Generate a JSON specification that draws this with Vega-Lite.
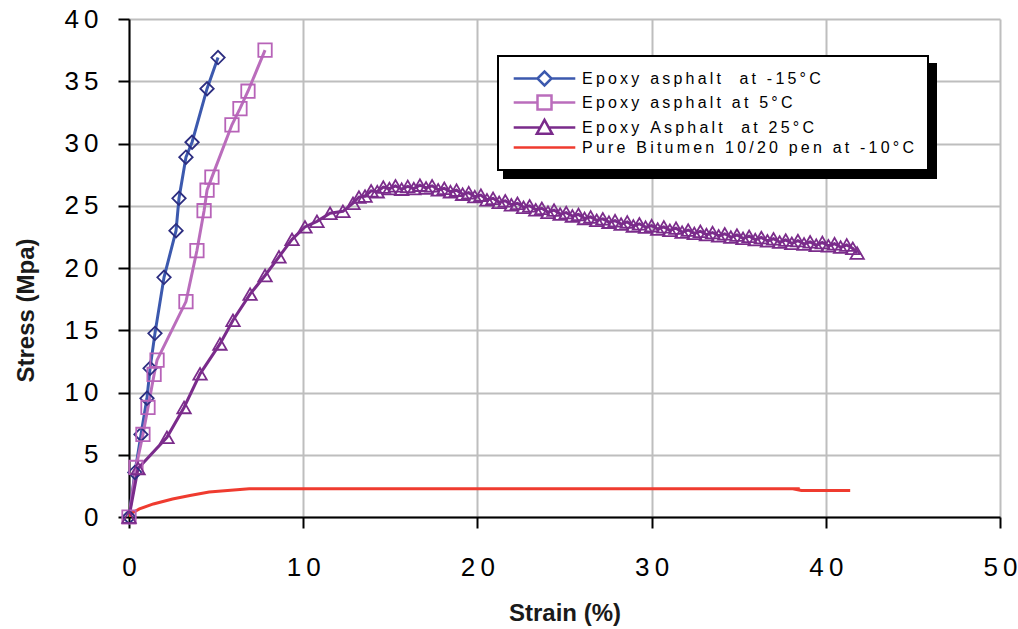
{
  "$schema": "https://vega.github.io/schema/vega-lite/v6.json",
  "width": 871,
  "height": 498,
  "autosize": {"type": "none"},
  "padding": {"left": 129, "top": 19, "right": 18, "bottom": 112},
  "background": "white",
  "config": {"view": {"stroke": null}, "font": "Liberation Sans", "legend": {"strokeWidth": 2}},
  "data": {"values": [
    {"series": "Epoxy asphalt  at -15°C", "strain": 0, "stress": 0},
    {"series": "Epoxy asphalt  at -15°C", "strain": 0.34, "stress": 3.58},
    {"series": "Epoxy asphalt  at -15°C", "strain": 0.69, "stress": 6.63},
    {"series": "Epoxy asphalt  at -15°C", "strain": 1.03, "stress": 9.53},
    {"series": "Epoxy asphalt  at -15°C", "strain": 1.21, "stress": 11.94},
    {"series": "Epoxy asphalt  at -15°C", "strain": 1.49, "stress": 14.75},
    {"series": "Epoxy asphalt  at -15°C", "strain": 2.01, "stress": 19.25},
    {"series": "Epoxy asphalt  at -15°C", "strain": 2.7, "stress": 23.0},
    {"series": "Epoxy asphalt  at -15°C", "strain": 2.87, "stress": 25.6},
    {"series": "Epoxy asphalt  at -15°C", "strain": 3.27, "stress": 28.9},
    {"series": "Epoxy asphalt  at -15°C", "strain": 3.62, "stress": 30.1},
    {"series": "Epoxy asphalt  at -15°C", "strain": 4.48, "stress": 34.4},
    {"series": "Epoxy asphalt  at -15°C", "strain": 5.11, "stress": 36.9},
    {"series": "Epoxy asphalt at 5°C", "strain": 0, "stress": 0},
    {"series": "Epoxy asphalt at 5°C", "strain": 0.4, "stress": 3.98},
    {"series": "Epoxy asphalt at 5°C", "strain": 0.8, "stress": 6.63},
    {"series": "Epoxy asphalt at 5°C", "strain": 1.09, "stress": 8.8},
    {"series": "Epoxy asphalt at 5°C", "strain": 1.44, "stress": 11.45},
    {"series": "Epoxy asphalt at 5°C", "strain": 1.61, "stress": 12.6},
    {"series": "Epoxy asphalt at 5°C", "strain": 3.27, "stress": 17.3},
    {"series": "Epoxy asphalt at 5°C", "strain": 3.9, "stress": 21.4},
    {"series": "Epoxy asphalt at 5°C", "strain": 4.31, "stress": 24.6},
    {"series": "Epoxy asphalt at 5°C", "strain": 4.48, "stress": 26.25},
    {"series": "Epoxy asphalt at 5°C", "strain": 4.76, "stress": 27.3},
    {"series": "Epoxy asphalt at 5°C", "strain": 5.91, "stress": 31.5},
    {"series": "Epoxy asphalt at 5°C", "strain": 6.37, "stress": 32.8},
    {"series": "Epoxy asphalt at 5°C", "strain": 6.83, "stress": 34.2},
    {"series": "Epoxy asphalt at 5°C", "strain": 7.81, "stress": 37.5},
    {"series": "Epoxy Asphalt  at 25°C", "strain": 0, "stress": 0},
    {"series": "Epoxy Asphalt  at 25°C", "strain": 0.52, "stress": 3.9},
    {"series": "Epoxy Asphalt  at 25°C", "strain": 2.18, "stress": 6.4},
    {"series": "Epoxy Asphalt  at 25°C", "strain": 3.16, "stress": 8.8},
    {"series": "Epoxy Asphalt  at 25°C", "strain": 4.08, "stress": 11.5},
    {"series": "Epoxy Asphalt  at 25°C", "strain": 5.22, "stress": 13.9},
    {"series": "Epoxy Asphalt  at 25°C", "strain": 5.97, "stress": 15.8},
    {"series": "Epoxy Asphalt  at 25°C", "strain": 6.95, "stress": 17.9},
    {"series": "Epoxy Asphalt  at 25°C", "strain": 7.81, "stress": 19.4},
    {"series": "Epoxy Asphalt  at 25°C", "strain": 8.61, "stress": 20.9},
    {"series": "Epoxy Asphalt  at 25°C", "strain": 9.36, "stress": 22.3},
    {"series": "Epoxy Asphalt  at 25°C", "strain": 10.1, "stress": 23.3},
    {"series": "Epoxy Asphalt  at 25°C", "strain": 10.79, "stress": 23.75},
    {"series": "Epoxy Asphalt  at 25°C", "strain": 11.54, "stress": 24.4},
    {"series": "Epoxy Asphalt  at 25°C", "strain": 12.28, "stress": 24.55},
    {"series": "Epoxy Asphalt  at 25°C", "strain": 12.86, "stress": 25.2},
    {"series": "Epoxy Asphalt  at 25°C", "strain": 13.2, "stress": 25.7},
    {"series": "Epoxy Asphalt  at 25°C", "strain": 13.55, "stress": 25.78},
    {"series": "Epoxy Asphalt  at 25°C", "strain": 13.9, "stress": 26.2},
    {"series": "Epoxy Asphalt  at 25°C", "strain": 14.25, "stress": 26.13},
    {"series": "Epoxy Asphalt  at 25°C", "strain": 14.6, "stress": 26.5},
    {"series": "Epoxy Asphalt  at 25°C", "strain": 14.95, "stress": 26.38},
    {"series": "Epoxy Asphalt  at 25°C", "strain": 15.3, "stress": 26.6},
    {"series": "Epoxy Asphalt  at 25°C", "strain": 15.65, "stress": 26.33},
    {"series": "Epoxy Asphalt  at 25°C", "strain": 16.0, "stress": 26.55},
    {"series": "Epoxy Asphalt  at 25°C", "strain": 16.35, "stress": 26.38},
    {"series": "Epoxy Asphalt  at 25°C", "strain": 16.7, "stress": 26.65},
    {"series": "Epoxy Asphalt  at 25°C", "strain": 17.05, "stress": 26.43},
    {"series": "Epoxy Asphalt  at 25°C", "strain": 17.4, "stress": 26.6},
    {"series": "Epoxy Asphalt  at 25°C", "strain": 17.75, "stress": 26.28},
    {"series": "Epoxy Asphalt  at 25°C", "strain": 18.1, "stress": 26.4},
    {"series": "Epoxy Asphalt  at 25°C", "strain": 18.45, "stress": 26.13},
    {"series": "Epoxy Asphalt  at 25°C", "strain": 18.8, "stress": 26.25},
    {"series": "Epoxy Asphalt  at 25°C", "strain": 19.15, "stress": 25.93},
    {"series": "Epoxy Asphalt  at 25°C", "strain": 19.5, "stress": 26.05},
    {"series": "Epoxy Asphalt  at 25°C", "strain": 19.85, "stress": 25.73},
    {"series": "Epoxy Asphalt  at 25°C", "strain": 20.2, "stress": 25.85},
    {"series": "Epoxy Asphalt  at 25°C", "strain": 20.55, "stress": 25.48},
    {"series": "Epoxy Asphalt  at 25°C", "strain": 20.9, "stress": 25.6},
    {"series": "Epoxy Asphalt  at 25°C", "strain": 21.25, "stress": 25.28},
    {"series": "Epoxy Asphalt  at 25°C", "strain": 21.6, "stress": 25.4},
    {"series": "Epoxy Asphalt  at 25°C", "strain": 21.95, "stress": 25.08},
    {"series": "Epoxy Asphalt  at 25°C", "strain": 22.3, "stress": 25.2},
    {"series": "Epoxy Asphalt  at 25°C", "strain": 22.65, "stress": 24.88},
    {"series": "Epoxy Asphalt  at 25°C", "strain": 23.0, "stress": 25.0},
    {"series": "Epoxy Asphalt  at 25°C", "strain": 23.35, "stress": 24.68},
    {"series": "Epoxy Asphalt  at 25°C", "strain": 23.7, "stress": 24.8},
    {"series": "Epoxy Asphalt  at 25°C", "strain": 24.05, "stress": 24.48},
    {"series": "Epoxy Asphalt  at 25°C", "strain": 24.4, "stress": 24.65},
    {"series": "Epoxy Asphalt  at 25°C", "strain": 24.75, "stress": 24.33},
    {"series": "Epoxy Asphalt  at 25°C", "strain": 25.1, "stress": 24.45},
    {"series": "Epoxy Asphalt  at 25°C", "strain": 25.45, "stress": 24.18},
    {"series": "Epoxy Asphalt  at 25°C", "strain": 25.8, "stress": 24.3},
    {"series": "Epoxy Asphalt  at 25°C", "strain": 26.15, "stress": 23.98},
    {"series": "Epoxy Asphalt  at 25°C", "strain": 26.5, "stress": 24.1},
    {"series": "Epoxy Asphalt  at 25°C", "strain": 26.85, "stress": 23.83},
    {"series": "Epoxy Asphalt  at 25°C", "strain": 27.2, "stress": 23.95},
    {"series": "Epoxy Asphalt  at 25°C", "strain": 27.55, "stress": 23.68},
    {"series": "Epoxy Asphalt  at 25°C", "strain": 27.9, "stress": 23.8},
    {"series": "Epoxy Asphalt  at 25°C", "strain": 28.25, "stress": 23.53},
    {"series": "Epoxy Asphalt  at 25°C", "strain": 28.6, "stress": 23.7},
    {"series": "Epoxy Asphalt  at 25°C", "strain": 28.95, "stress": 23.38},
    {"series": "Epoxy Asphalt  at 25°C", "strain": 29.3, "stress": 23.55},
    {"series": "Epoxy Asphalt  at 25°C", "strain": 29.65, "stress": 23.28},
    {"series": "Epoxy Asphalt  at 25°C", "strain": 30.0, "stress": 23.4},
    {"series": "Epoxy Asphalt  at 25°C", "strain": 30.35, "stress": 23.13},
    {"series": "Epoxy Asphalt  at 25°C", "strain": 30.7, "stress": 23.3},
    {"series": "Epoxy Asphalt  at 25°C", "strain": 31.05, "stress": 23.03},
    {"series": "Epoxy Asphalt  at 25°C", "strain": 31.4, "stress": 23.2},
    {"series": "Epoxy Asphalt  at 25°C", "strain": 31.75, "stress": 22.88},
    {"series": "Epoxy Asphalt  at 25°C", "strain": 32.1, "stress": 23.05},
    {"series": "Epoxy Asphalt  at 25°C", "strain": 32.45, "stress": 22.78},
    {"series": "Epoxy Asphalt  at 25°C", "strain": 32.8, "stress": 22.95},
    {"series": "Epoxy Asphalt  at 25°C", "strain": 33.15, "stress": 22.68},
    {"series": "Epoxy Asphalt  at 25°C", "strain": 33.5, "stress": 22.85},
    {"series": "Epoxy Asphalt  at 25°C", "strain": 33.85, "stress": 22.58},
    {"series": "Epoxy Asphalt  at 25°C", "strain": 34.2, "stress": 22.75},
    {"series": "Epoxy Asphalt  at 25°C", "strain": 34.55, "stress": 22.48},
    {"series": "Epoxy Asphalt  at 25°C", "strain": 34.9, "stress": 22.65},
    {"series": "Epoxy Asphalt  at 25°C", "strain": 35.25, "stress": 22.38},
    {"series": "Epoxy Asphalt  at 25°C", "strain": 35.6, "stress": 22.55},
    {"series": "Epoxy Asphalt  at 25°C", "strain": 35.95, "stress": 22.28},
    {"series": "Epoxy Asphalt  at 25°C", "strain": 36.3, "stress": 22.45},
    {"series": "Epoxy Asphalt  at 25°C", "strain": 36.65, "stress": 22.18},
    {"series": "Epoxy Asphalt  at 25°C", "strain": 37.0, "stress": 22.35},
    {"series": "Epoxy Asphalt  at 25°C", "strain": 37.35, "stress": 22.08},
    {"series": "Epoxy Asphalt  at 25°C", "strain": 37.7, "stress": 22.25},
    {"series": "Epoxy Asphalt  at 25°C", "strain": 38.05, "stress": 21.98},
    {"series": "Epoxy Asphalt  at 25°C", "strain": 38.4, "stress": 22.2},
    {"series": "Epoxy Asphalt  at 25°C", "strain": 38.75, "stress": 21.93},
    {"series": "Epoxy Asphalt  at 25°C", "strain": 39.1, "stress": 22.1},
    {"series": "Epoxy Asphalt  at 25°C", "strain": 39.45, "stress": 21.83},
    {"series": "Epoxy Asphalt  at 25°C", "strain": 39.8, "stress": 22.05},
    {"series": "Epoxy Asphalt  at 25°C", "strain": 40.15, "stress": 21.78},
    {"series": "Epoxy Asphalt  at 25°C", "strain": 40.5, "stress": 21.95},
    {"series": "Epoxy Asphalt  at 25°C", "strain": 40.85, "stress": 21.68},
    {"series": "Epoxy Asphalt  at 25°C", "strain": 41.2, "stress": 21.85},
    {"series": "Epoxy Asphalt  at 25°C", "strain": 41.55, "stress": 21.58},
    {"series": "Epoxy Asphalt  at 25°C", "strain": 41.8, "stress": 21.2},
    {"series": "Pure Bitumen 10/20 pen at -10°C", "strain": 0, "stress": 0},
    {"series": "Pure Bitumen 10/20 pen at -10°C", "strain": 0.15, "stress": 0.3},
    {"series": "Pure Bitumen 10/20 pen at -10°C", "strain": 0.6, "stress": 0.65},
    {"series": "Pure Bitumen 10/20 pen at -10°C", "strain": 1.4, "stress": 1.05},
    {"series": "Pure Bitumen 10/20 pen at -10°C", "strain": 2.5, "stress": 1.45},
    {"series": "Pure Bitumen 10/20 pen at -10°C", "strain": 3.5, "stress": 1.73},
    {"series": "Pure Bitumen 10/20 pen at -10°C", "strain": 4.6, "stress": 2.0},
    {"series": "Pure Bitumen 10/20 pen at -10°C", "strain": 6.9, "stress": 2.27},
    {"series": "Pure Bitumen 10/20 pen at -10°C", "strain": 20, "stress": 2.27},
    {"series": "Pure Bitumen 10/20 pen at -10°C", "strain": 38.5, "stress": 2.27},
    {"series": "Pure Bitumen 10/20 pen at -10°C", "strain": 38.35, "stress": 2.2},
    {"series": "Pure Bitumen 10/20 pen at -10°C", "strain": 38.6, "stress": 2.13},
    {"series": "Pure Bitumen 10/20 pen at -10°C", "strain": 41.4, "stress": 2.13}
  ]},
  "encoding": {
    "x": {
      "field": "strain", "type": "quantitative",
      "scale": {"domain": [0, 50], "nice": false, "zero": false},
      "axis": {
        "title": "Strain (%)", "values": [0, 10, 20, 30, 40, 50],
        "grid": true, "gridColor": "#BEBEBE", "gridWidth": 2,
        "domainColor": "black", "domainWidth": 2,
        "tickColor": "black", "tickWidth": 2, "tickSize": 11,
        "labelFont": "Liberation Sans", "labelFontSize": 26, "labelColor": "black",
        "labelPadding": 26, "labelFlush": false,
        "labelExpr": "join(split(datum.label, ''), '\u2009')",
        "titleFont": "Liberation Sans", "titleFontSize": 24, "titleFontWeight": "bold",
        "titleColor": "#1a1a1a", "titleY": 103, "titleBaseline": "alphabetic"
      }
    },
    "y": {
      "field": "stress", "type": "quantitative",
      "scale": {"domain": [0, 40], "nice": false},
      "axis": {
        "title": "Stress (Mpa)", "values": [0, 5, 10, 15, 20, 25, 30, 35, 40],
        "grid": true, "gridColor": "#BEBEBE", "gridWidth": 2,
        "domainColor": "black", "domainWidth": 2,
        "tickColor": "black", "tickWidth": 2, "tickSize": 11,
        "labelFont": "Liberation Sans", "labelFontSize": 26, "labelColor": "black",
        "labelPadding": 20, "labelFlush": false,
        "labelExpr": "join(split(datum.label, ''), '\u2009')",
        "titleFont": "Liberation Sans", "titleFontSize": 24, "titleFontWeight": "bold",
        "titleColor": "#1a1a1a", "titleX": -103, "titleY": 291,
        "titleAngle": -90, "titleAlign": "center", "titleBaseline": "middle"
      }
    }
  },
  "layer": [
    {
      "mark": {"type": "line", "strokeWidth": 3, "clip": true},
      "encoding": {
        "color": {
          "field": "series", "type": "nominal",
          "scale": {
            "domain": ["Epoxy asphalt  at -15°C", "Epoxy asphalt at 5°C", "Epoxy Asphalt  at 25°C", "Pure Bitumen 10/20 pen at -10°C"],
            "range": ["#3C59AE", "#BA6DBC", "#7A2B8B", "#EF3B2F"]
          },
          "legend": null
        },
        "order": {"value": null}
      }
    },
    {
      "transform": [{"filter": "datum.series != 'Pure Bitumen 10/20 pen at -10°C'"}],
      "mark": {"type": "point", "filled": false, "opacity": 1, "strokeWidth": 1.8, "size": 180},
      "encoding": {
        "color": {
          "field": "series", "type": "nominal",
          "scale": {
            "domain": ["Epoxy asphalt  at -15°C", "Epoxy asphalt at 5°C", "Epoxy Asphalt  at 25°C"],
            "range": ["#2C2D80", "#B763B8", "#7B2C8B"]
          },
          "legend": null
        },
        "shape": {
          "field": "series", "type": "nominal",
          "scale": {
            "domain": ["Epoxy asphalt  at -15°C", "Epoxy asphalt at 5°C", "Epoxy Asphalt  at 25°C"],
            "range": ["diamond", "square", "triangle-up"]
          },
          "legend": null
        }
      }
    },
    {
      "transform": [{"filter": "false"}],
      "mark": {"type": "point", "filled": false, "opacity": 1, "color": "black"},
      "encoding": {
        "shape": {
          "field": "series", "type": "nominal",
          "scale": {
            "domain": ["Epoxy asphalt  at -15°C", "Epoxy asphalt at 5°C", "Epoxy Asphalt  at 25°C", "Pure Bitumen 10/20 pen at -10°C"],
            "range": [
              "M-4.4,-0.82H52.3V0.82H-4.4Z",
              "M-4.4,-0.82H52.3V0.82H-4.4Z",
              "M-4.4,-0.82H52.3V0.82H-4.4Z",
              "M-4.4,-0.82H52.3V0.82H-4.4Z"
            ]
          },
          "legend": {
            "title": null, "orient": "none", "legendX": 375, "legendY": 45,
            "fillColor": "black", "strokeColor": "black",
            "padding": 14, "rowPadding": -1,
            "symbolSize": 196, "symbolStrokeWidth": 2.5, "symbolOffset": 24,
            "labelOffset": 29, "labelFont": "Liberation Sans", "labelFontSize": 16,
            "labelColor": "black", "labelLimit": 0,
            "labelExpr": "''"
          }
        }
      }
    },
    {
      "transform": [{"filter": "false"}],
      "mark": {"type": "point", "filled": false, "opacity": 1},
      "encoding": {
        "color": {
          "field": "series", "type": "nominal",
          "scale": {
            "domain": ["Epoxy asphalt  at -15°C", "Epoxy asphalt at 5°C", "Epoxy Asphalt  at 25°C", "Pure Bitumen 10/20 pen at -10°C"],
            "range": ["#3C59AE", "#BA6DBC", "#7A2B8B", "#EF3B2F"]
          },
          "legend": {
            "title": null, "orient": "none", "legendX": 369, "legendY": 37,
            "fillColor": "white", "strokeColor": "black",
            "padding": 14, "rowPadding": -1,
            "symbolSize": 196, "symbolStrokeWidth": 2.5, "symbolOffset": 24,
            "labelOffset": 29, "labelFont": "Liberation Sans", "labelFontSize": 16,
            "labelColor": "black", "labelLimit": 0,
            "labelExpr": "join(split(datum.label, ''), '\u2009')"
          }
        },
        "shape": {
          "field": "series", "type": "nominal",
          "scale": {
            "domain": ["Epoxy asphalt  at -15°C", "Epoxy asphalt at 5°C", "Epoxy Asphalt  at 25°C", "Pure Bitumen 10/20 pen at -10°C"],
            "range": [
              "M-4.4,0H-1M1,0H4.4M-1,0L0,-1L1,0L0,1Z",
              "M-4.4,0H-1M1,0H4.4M-1,-1H1V1H-1Z",
              "M-4.4,0H-0.6M0.6,0H4.4M0,-1.1L1.1,0.9H-1.1Z",
              "M-4.4,0H4.4"
            ]
          },
          "legend": {
            "title": null, "orient": "none", "legendX": 369, "legendY": 37,
            "fillColor": "white", "strokeColor": "black",
            "padding": 14, "rowPadding": -1,
            "symbolSize": 196, "symbolStrokeWidth": 2.5, "symbolOffset": 24,
            "labelOffset": 29, "labelFont": "Liberation Sans", "labelFontSize": 16,
            "labelColor": "black", "labelLimit": 0,
            "labelExpr": "join(split(datum.label, ''), '\u2009')"
          }
        }
      }
    }
  ],
  "resolve": {"scale": {"color": "independent", "shape": "independent"}}
}
